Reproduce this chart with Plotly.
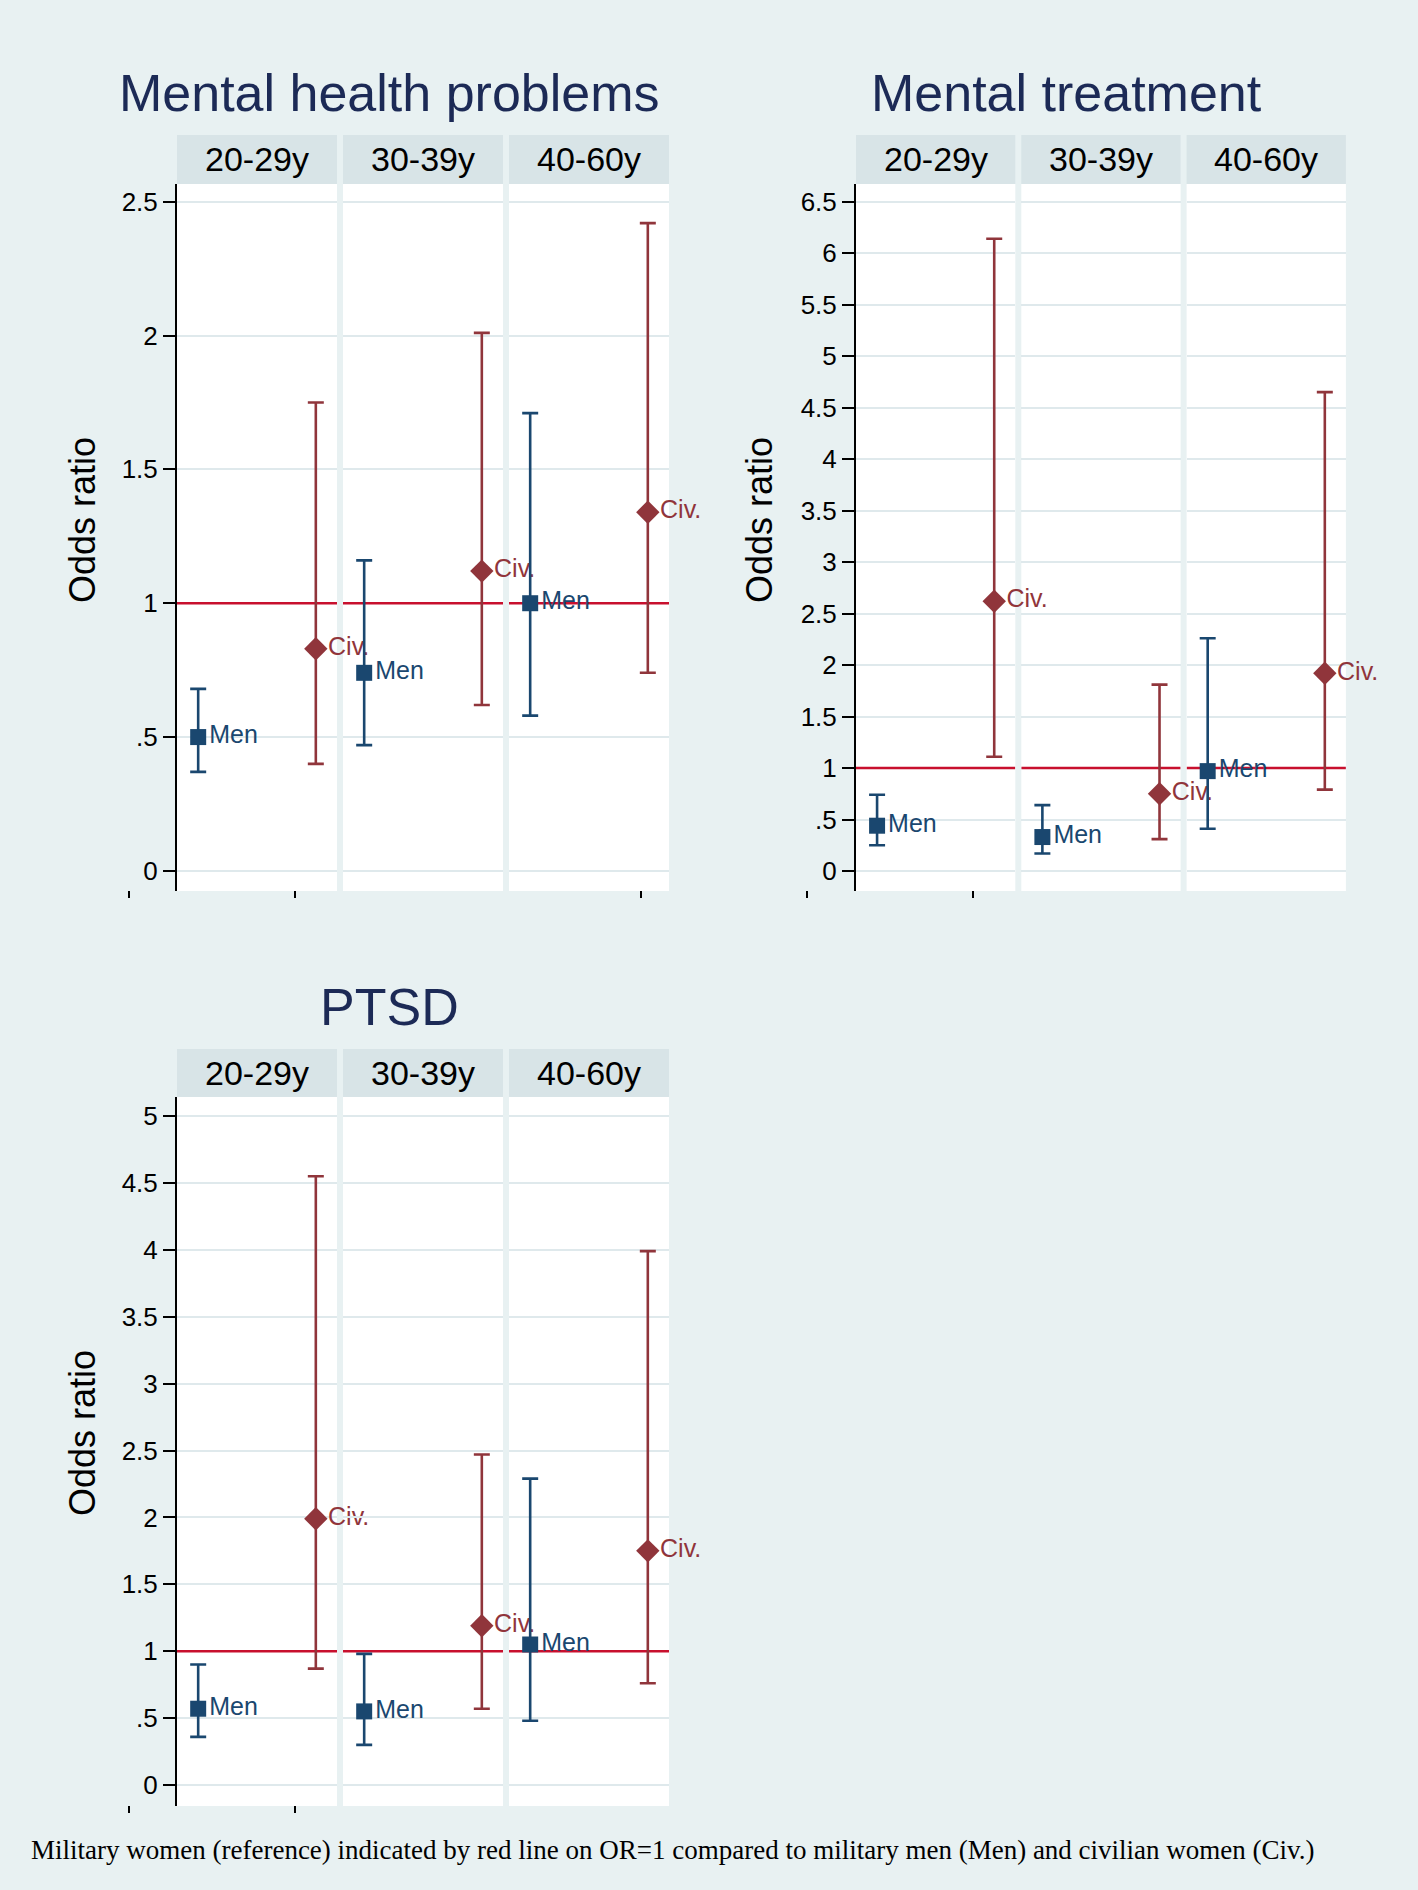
import plotly.graph_objects as go

W, H = 1418, 1890

ages = ["20-29y", "30-39y", "40-60y"]
titles = ["Mental health problems", "Mental treatment", "PTSD"]

# odds ratios: point, lower CI, upper CI per age group
mhp_men = [0.50, 0.74, 1.00]
mhp_men_lo = [0.37, 0.47, 0.58]
mhp_men_hi = [0.68, 1.16, 1.71]
mhp_civ = [0.83, 1.12, 1.34]
mhp_civ_lo = [0.40, 0.62, 0.74]
mhp_civ_hi = [1.75, 2.01, 2.42]

trt_men = [0.44, 0.33, 0.97]
trt_men_lo = [0.25, 0.17, 0.41]
trt_men_hi = [0.74, 0.64, 2.26]
trt_civ = [2.62, 0.75, 1.92]
trt_civ_lo = [1.11, 0.31, 0.79]
trt_civ_hi = [6.14, 1.81, 4.65]

ptsd_men = [0.57, 0.55, 1.05]
ptsd_men_lo = [0.36, 0.30, 0.48]
ptsd_men_hi = [0.90, 0.98, 2.29]
ptsd_civ = [1.99, 1.19, 1.75]
ptsd_civ_lo = [0.87, 0.57, 0.76]
ptsd_civ_hi = [4.55, 2.47, 3.99]

mhp_ticks = [0, 0.5, 1, 1.5, 2, 2.5]
mhp_ticktext = ["0", ".5", "1", "1.5", "2", "2.5"]
trt_ticks = [0, 0.5, 1, 1.5, 2, 2.5, 3, 3.5, 4, 4.5, 5, 5.5, 6, 6.5]
trt_ticktext = ["0", ".5", "1", "1.5", "2", "2.5", "3", "3.5", "4", "4.5", "5", "5.5", "6", "6.5"]
ptsd_ticks = [0, 0.5, 1, 1.5, 2, 2.5, 3, 3.5, 4, 4.5, 5]
ptsd_ticktext = ["0", ".5", "1", "1.5", "2", "2.5", "3", "3.5", "4", "4.5", "5"]

reference_or = 1
footnote = ("Military women (reference) indicated by red line on OR=1 compared to "
            "military men (Men) and civilian women (Civ.)")

NAVY = "#1a476f"
MAROON = "#90353b"
RED = "#c8102e"
BG = "#e8f1f2"
STRIP = "#d8e4e7"
GRID = "#dfe9ec"
TITLE = "#1c2a56"
SANS = "Liberation Sans, Arial, sans-serif"

panels = [
    dict(title=titles[0], men=(mhp_men, mhp_men_lo, mhp_men_hi), civ=(mhp_civ, mhp_civ_lo, mhp_civ_hi),
         ticks=mhp_ticks, ticktext=mhp_ticktext, yrange=[-0.075, 2.566],
         x0=177, fw=160, gap=6, top=184, bottom=891, strip_top=135,
         title_xy=(389, 93), ylab_xy=(82, 520), stray=[129, 295, 641]),
    dict(title=titles[1], men=(trt_men, trt_men_lo, trt_men_hi), civ=(trt_civ, trt_civ_lo, trt_civ_hi),
         ticks=trt_ticks, ticktext=trt_ticktext, yrange=[-0.194, 6.671],
         x0=856, fw=159.3, gap=6, top=184, bottom=891, strip_top=135,
         title_xy=(1066, 93), ylab_xy=(759, 520), stray=[807, 973]),
    dict(title=titles[2], men=(ptsd_men, ptsd_men_lo, ptsd_men_hi), civ=(ptsd_civ, ptsd_civ_lo, ptsd_civ_hi),
         ticks=ptsd_ticks, ticktext=ptsd_ticktext, yrange=[-0.157, 5.142],
         x0=177, fw=160, gap=6, top=1097, bottom=1806, strip_top=1049,
         title_xy=(389, 1007), ylab_xy=(82, 1433), stray=[129, 295]),
]


def px(x):
    return x / W


def py(y):
    return 1 - y / H


fig = go.Figure()
shapes = []
annotations = []
layout = {}

for p, pan in enumerate(panels):
    for f in range(3):
        n = p * 3 + f + 1
        xs = "" if n == 1 else str(n)
        left = pan["x0"] + f * (pan["fw"] + pan["gap"])
        right = left + pan["fw"]
        layout["xaxis" + xs] = dict(domain=[px(left), px(right)], range=[0.82, 2.18],
                                    visible=False, anchor="y" + xs, fixedrange=True)
        yax = dict(domain=[py(pan["bottom"]), py(pan["top"])], range=pan["yrange"],
                   anchor="x" + xs, tickvals=pan["ticks"], showgrid=True, gridcolor=GRID,
                   gridwidth=1.5, zeroline=False, fixedrange=True)
        if f == 0:
            yax.update(showline=True, linecolor="black", linewidth=2, ticks="outside",
                       ticklen=12, tickwidth=2, tickcolor="black", ticktext=pan["ticktext"],
                       tickfont=dict(family=SANS, size=26, color="black"))
        else:
            yax.update(showticklabels=False, ticks="", showline=False)
        layout["yaxis" + xs] = yax

        # strip
        shapes.append(dict(type="rect", xref="paper", yref="paper", x0=px(left), x1=px(right),
                           y0=py(pan["top"]), y1=py(pan["strip_top"]), fillcolor=STRIP,
                           line=dict(width=0), layer="below"))
        annotations.append(dict(text=ages[f], xref="paper", yref="paper",
                                x=px((left + right) / 2), y=py((pan["top"] + pan["strip_top"]) / 2),
                                xanchor="center", yanchor="middle", showarrow=False,
                                font=dict(family=SANS, size=34, color="black")))
        # reference line OR = 1 (drawn as a trace so it sits under the markers)
        fig.add_trace(go.Scatter(x=[0.82, 2.18], y=[reference_or, reference_or],
                                 xaxis="x" + xs, yaxis="y" + xs, mode="lines",
                                 line=dict(color=RED, width=2.5), showlegend=False,
                                 hoverinfo="skip"))

        for grp, xpos, sym, size, col, lab in [("men", 1, "square", 16, NAVY, "Men"),
                                              ("civ", 2, "diamond", 18, MAROON, "Civ.")]:
            pt, lo, hi = pan[grp]
            fig.add_trace(go.Scatter(
                x=[xpos], y=[pt[f]], xaxis="x" + xs, yaxis="y" + xs,
                mode="markers+text", text=[lab], textposition="middle right",
                textfont=dict(family=SANS, size=25, color=col),
                marker=dict(symbol=sym, size=size, color=col),
                error_y=dict(type="data", symmetric=False, array=[hi[f] - pt[f]],
                             arrayminus=[pt[f] - lo[f]], color=col, thickness=2.6, width=8),
                cliponaxis=False, showlegend=False, hoverinfo="skip"))

    # title and axis title
    annotations.append(dict(text=pan["title"], xref="paper", yref="paper",
                            x=px(pan["title_xy"][0]), y=py(pan["title_xy"][1]),
                            xanchor="center", yanchor="middle", showarrow=False,
                            font=dict(family=SANS, size=52, color=TITLE)))
    annotations.append(dict(text="Odds ratio", xref="paper", yref="paper", textangle=-90,
                            x=px(pan["ylab_xy"][0]), y=py(pan["ylab_xy"][1]),
                            xanchor="center", yanchor="middle", showarrow=False,
                            font=dict(family=SANS, size=36, color="black")))
    # stray x-axis ticks below the plot region
    for sx in pan["stray"]:
        shapes.append(dict(type="line", xref="paper", yref="paper", x0=px(sx), x1=px(sx),
                           y0=py(pan["bottom"]), y1=py(pan["bottom"] + 7),
                           line=dict(color="black", width=2)))

annotations.append(dict(text=footnote, xref="paper", yref="paper", x=px(29), y=py(1850),
                        xanchor="left", yanchor="middle", showarrow=False,
                        font=dict(family="Liberation Serif, Times New Roman, serif", size=27,
                                  color="black")))

fig.update_layout(width=W, height=H, margin=dict(l=0, r=0, t=0, b=0),
                  paper_bgcolor=BG, plot_bgcolor="white",
                  shapes=shapes, annotations=annotations, **layout)

fig.write_html("out.html", config={"displayModeBar": False},
               post_script="document.body.style.margin='0';")
